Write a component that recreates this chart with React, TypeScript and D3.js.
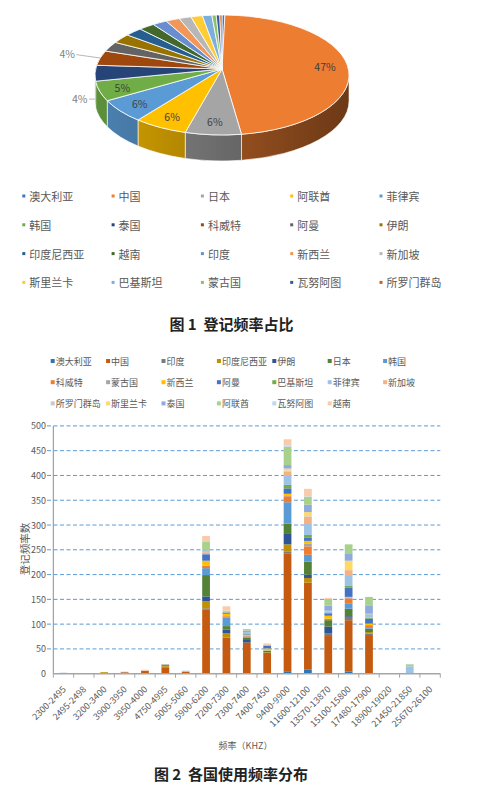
import React from "react";
import * as d3 from "d3";

// ---------- 图1 登记频率占比 (pie) ----------
const pieCountries = [
  "澳大利亚", "中国", "日本", "阿联酋", "菲律宾",
  "韩国", "泰国", "科威特", "阿曼", "伊朗",
  "印度尼西亚", "越南", "印度", "新西兰", "新加坡",
  "斯里兰卡", "巴基斯坦", "蒙古国", "瓦努阿图", "所罗门群岛",
];
// shares in percent
const pieShares = [0.4, 47.0, 6.4, 6.2, 6.0, 5.2, 4.2, 4.0, 2.7, 2.6, 2.4, 2.2, 2.0, 1.9, 1.7, 1.6, 1.3, 0.6, 0.5, 0.3];
const pieColors = [
  "#4472C4", "#ED7D31", "#A5A5A5", "#FFC000", "#5B9BD5",
  "#70AD47", "#264478", "#9E480E", "#636363", "#997300",
  "#255E91", "#43682B", "#698ED0", "#F1975A", "#B7B7B7",
  "#FFCD33", "#7CAFDD", "#8CC168", "#335AA1", "#D26012",
];

// ---------- 图2 各国使用频率分布 (stacked bars) ----------
const bandLabels = [
  "2300-2495", "2495-2498", "3200-3400", "3900-3950", "3950-4000",
  "4750-4995", "5005-5060", "5900-6200", "7200-7300", "7300-7400",
  "7400-7450", "9400-9900", "11600-12100", "13570-13870", "15100-15800",
  "17480-17900", "18900-19020", "21450-21850", "25670-26100",
];
const barCountries = [
  "澳大利亚", "中国", "印度", "印度尼西亚", "伊朗", "日本", "韩国",
  "科威特", "蒙古国", "新西兰", "阿曼", "巴基斯坦", "菲律宾", "新加坡",
  "所罗门群岛", "斯里兰卡", "泰国", "阿联酋", "瓦努阿图", "越南",
];
const barColors = [
  "#2E75B6", "#C55A11", "#7B7B7B", "#BF9000", "#2F5597", "#538135", "#5B9BD5",
  "#ED7D31", "#A5A5A5", "#FFC000", "#4472C4", "#70AD47", "#9DC3E6", "#F4B183",
  "#C9C9C9", "#FFD966", "#8FAADC", "#A9D18E", "#BDD7EE", "#F8CBAD",
];
// one row per country (same order as barCountries), one column per band
const barValues: number[][] = [
  [0, 0, 0, 0, 0, 0, 0, 0, 0, 0, 0, 5, 8, 0, 4, 0, 0, 0, 0],
  [0, 0, 0, 3, 6, 12, 4, 130, 73, 62, 42, 237, 176, 76, 104, 78, 0, 0, 0],
  [0, 0, 0, 0, 0, 2, 0, 2, 0, 2, 0, 5, 0, 5, 5, 3, 0, 0, 0],
  [0, 0, 3, 0, 0, 2, 0, 14, 9, 0, 1, 14, 9, 0, 0, 3, 0, 0, 0],
  [0, 0, 0, 0, 0, 0, 0, 10, 7, 4, 0, 21, 7, 14, 3, 0, 0, 0, 0],
  [0, 0, 0, 0, 0, 2, 0, 43, 7, 5, 3, 21, 26, 13, 15, 7, 0, 0, 0],
  [0, 0, 0, 0, 0, 0, 0, 14, 17, 2, 1, 43, 14, 0, 10, 3, 0, 0, 0],
  [0, 0, 0, 0, 0, 0, 0, 5, 3, 2, 0, 12, 17, 3, 11, 4, 0, 0, 0],
  [0, 0, 0, 0, 0, 1, 0, 0, 0, 0, 0, 2, 6, 0, 1, 0, 0, 0, 0],
  [0, 0, 0, 0, 0, 0, 0, 10, 5, 2, 4, 3, 5, 6, 2, 3, 0, 0, 0],
  [0, 0, 0, 0, 0, 0, 0, 13, 2, 2, 5, 11, 7, 5, 19, 10, 0, 0, 0],
  [0, 0, 0, 0, 0, 0, 0, 0, 1, 0, 0, 7, 5, 0, 4, 2, 0, 0, 0],
  [2, 0, 0, 1, 0, 0, 2, 3, 1, 3, 2, 18, 22, 3, 21, 7, 0, 15, 0],
  [0, 0, 0, 0, 0, 0, 0, 3, 0, 0, 1, 9, 15, 2, 10, 1, 0, 0, 0],
  [0, 0, 0, 0, 0, 0, 0, 0, 0, 0, 0, 2, 1, 0, 0, 0, 0, 0, 0],
  [0, 0, 0, 0, 0, 0, 0, 0, 0, 0, 0, 4, 8, 0, 19, 0, 0, 0, 0],
  [0, 0, 0, 0, 0, 0, 0, 2, 0, 3, 0, 7, 15, 10, 15, 17, 0, 0, 0],
  [0, 0, 0, 0, 0, 0, 0, 18, 2, 3, 0, 37, 16, 14, 18, 17, 0, 4, 0],
  [0, 0, 0, 0, 0, 0, 0, 0, 0, 0, 0, 2, 1, 0, 0, 0, 0, 0, 0],
  [0, 0, 0, 0, 2, 0, 0, 11, 9, 0, 2, 13, 15, 2, 0, 0, 0, 0, 0],
];

const W = 478;
const H = 789;
const FONT = '"Noto Sans CJK SC", "Noto Sans", sans-serif';
const TXT = "#595959";

// 3D pie geometry: a perspective view of a flat disc
const PX = 222, PY = 69, PA = 126.4, PB = 59.4, PE = 0.1, DEPTH = 26;
const RX = PA / Math.sqrt(1 - PE * PE);
const RY = PB / (1 - PE * PE);
const ECY = PY + (PB * PE) / (1 - PE * PE);
const TAU = Math.PI * 2;

type Pt = [number, number];

function proj(a: number, k = 1): Pt {
  const t = a - Math.PI / 2;
  const u = k * Math.cos(t);
  const v = k * Math.sin(t);
  const w = 1 - PE * v;
  return [PX + (PA * u) / w, PY + (PB * v) / w];
}

function phi(p: Pt, dy = 0) {
  return Math.atan2((p[1] - ECY - dy) / RY, (p[0] - PX) / RX);
}

function rimArc(p0: Pt, p1: Pt, sweep: 0 | 1, dy = 0) {
  let d = phi(p1, dy) - phi(p0, dy);
  if (!sweep) d = -d;
  d = ((d % TAU) + TAU) % TAU;
  return `A${RX},${RY} 0 ${d > Math.PI ? 1 : 0} ${sweep} ${p1[0]},${p1[1]}`;
}

function PieChart() {
  const arcs = d3.pie<number>().sort(null).startAngle(0).endAngle(TAU)(pieShares);
  const total = d3.sum(pieShares);
  const lo = Math.PI / 2 + Math.asin(PE);
  const hi = (3 * Math.PI) / 2 - Math.asin(PE);

  return (
    <g>
      <defs>
        {pieColors.map((c, i) => (
          <linearGradient key={i} id={`wall${i}`} gradientUnits="userSpaceOnUse" x1={PX - RX} x2={PX + RX} y1={0} y2={0}>
            <stop offset="0" stopColor={d3.color(c)!.darker(0.5).formatHex()} />
            <stop offset="1" stopColor={d3.color(c)!.darker(2.2).formatHex()} />
          </linearGradient>
        ))}
      </defs>

      {/* outer wall, front half only */}
      {arcs.map((a, i) => {
        const b0 = Math.max(a.startAngle, lo);
        const b1 = Math.min(a.endAngle, hi);
        if (b1 <= b0) return null;
        const p0 = proj(b0);
        const p1 = proj(b1);
        const q0: Pt = [p0[0], p0[1] + DEPTH];
        const q1: Pt = [p1[0], p1[1] + DEPTH];
        const d = `M${p0[0]},${p0[1]} ${rimArc(p0, p1, 1)} L${q1[0]},${q1[1]} ${rimArc(q1, q0, 0, DEPTH)} Z`;
        return <path key={i} d={d} fill={`url(#wall${i})`} stroke="#fff" strokeWidth={0.6} />;
      })}

      {/* top face */}
      {arcs.map((a, i) => {
        const p0 = proj(a.startAngle);
        const p1 = proj(a.endAngle);
        const d = `M${PX},${PY} L${p0[0]},${p0[1]} ${rimArc(p0, p1, 1)} Z`;
        return <path key={i} d={d} fill={pieColors[i]} stroke="#fff" strokeWidth={0.8} strokeLinejoin="round" />;
      })}

      {/* percentage labels */}
      {arcs.map((a, i) => {
        const pct = (a.value / total) * 100;
        if (pct < 3.5) return null;
        const mid = (a.startAngle + a.endAngle) / 2;
        const label = `${Math.round(pct)}%`;
        if (pct >= 4.5) {
          const [lx, ly] = proj(mid, 0.82);
          return (
            <text key={i} x={lx} y={ly} textAnchor="middle" dominantBaseline="central" fontSize={10.5} fill="#404040">
              {label}
            </text>
          );
        }
        const front = Math.sin(mid - Math.PI / 2) > 0;
        const r = proj(mid);
        const anchor: Pt = [r[0], r[1] + (front ? DEPTH : 0)];
        const dx = anchor[0] - PX;
        const dy = anchor[1] - (ECY + (front ? DEPTH : 0));
        const len = Math.hypot(dx, dy);
        const lead = front ? 6 : 24;
        const end: Pt = [anchor[0] + (dx / len) * lead, anchor[1] + (dy / len) * lead];
        return (
          <g key={i}>
            <line x1={anchor[0]} y1={anchor[1]} x2={end[0]} y2={end[1]} stroke="#A6A6A6" strokeWidth={0.8} />
            <text x={end[0] - 1.5} y={end[1] - 1} textAnchor="end" dominantBaseline="central" fontSize={10.5} fill="#7F7F7F">
              {label}
            </text>
          </g>
        );
      })}

      {/* legend */}
      {pieCountries.map((name, i) => {
        const col = i % 5;
        const row = Math.floor(i / 5);
        const lx = 22.3 + col * 89.3;
        const ly = 196 + row * 28.8;
        return (
          <g key={name}>
            <rect x={lx} y={ly - 1.5} width={3} height={3} fill={pieColors[i]} />
            <text x={lx + 7} y={ly} dominantBaseline="central" fontSize={11} fill={TXT}>
              {name}
            </text>
          </g>
        );
      })}

      <text x={231.5} y={330} textAnchor="middle" fontSize={15} fontWeight={600} fill="#222">
        {"图\u00A01\u00A0\u00A0登记频率占比"}
      </text>
    </g>
  );
}

function BarChart() {
  const x = d3.scaleBand<string>().domain(bandLabels).range([53.3, 440.3]);
  const y = d3.scaleLinear().domain([0, 500]).range([673.7, 425.9]);
  const rows = bandLabels.map((b, j) => {
    const r: Record<string, number | string> = { band: b };
    barCountries.forEach((c, i) => (r[c] = barValues[i][j]));
    return r;
  });
  const series = d3.stack<Record<string, number | string>>().keys(barCountries)(rows as any);
  const bw = x.bandwidth() * 0.38;
  const x0 = x.range()[0];
  const x1 = x.range()[1];

  return (
    <g>
      {/* legend */}
      {barCountries.map((name, i) => {
        const col = i % 7;
        const row = Math.floor(i / 7);
        const lx = 50.7 + col * 55.4;
        const ly = 361 + row * 21.2;
        return (
          <g key={name}>
            <rect x={lx} y={ly - 2} width={4} height={4} fill={barColors[i]} />
            <text x={lx + 5} y={ly} dominantBaseline="central" fontSize={9} fill={TXT}>
              {name}
            </text>
          </g>
        );
      })}

      {/* grid + y ticks */}
      {y.ticks(10).map((t) => (
        <g key={t}>
          {t > 0 && (
            <line x1={47} x2={x1} y1={y(t)} y2={y(t)} stroke="#5B9BD5" strokeWidth={1} strokeDasharray="4 2.5" />
          )}
          <text x={46} y={y(t)} textAnchor="end" dominantBaseline="central" fontSize={9} fill={TXT}>
            {t}
          </text>
        </g>
      ))}

      {/* stacked bars */}
      {series.map((s, i) =>
        s.map((d, j) =>
          d[1] - d[0] > 0 ? (
            <rect
              key={`${i}-${j}`}
              x={(x(bandLabels[j]) as number) + (x.bandwidth() - bw) / 2}
              y={y(d[1])}
              width={bw}
              height={y(d[0]) - y(d[1])}
              fill={barColors[i]}
            />
          ) : null
        )
      )}

      {/* axes */}
      <line x1={x0} x2={x0} y1={y(500)} y2={y(0)} stroke="#8C8C8C" strokeWidth={1} />
      <line x1={x0} x2={x1} y1={y(0)} y2={y(0)} stroke="#A6A6A6" strokeWidth={1.5} />
      {d3.range(bandLabels.length + 1).map((k) => (
        <line key={k} x1={x0 + k * x.step()} x2={x0 + k * x.step()} y1={y(0)} y2={y(0) + 4} stroke="#A6A6A6" strokeWidth={1} />
      ))}
      {bandLabels.map((b) => {
        const cx = (x(b) as number) + x.bandwidth() / 2;
        return (
          <text key={b} transform={`translate(${cx + 3},${690}) rotate(-45)`} textAnchor="end" fontSize={9} fill={TXT}>
            {b}
          </text>
        );
      })}

      <text transform="translate(29,549) rotate(-90)" textAnchor="middle" fontSize={10.5} fill={TXT}>
        登记频率数
      </text>
      <text x={245.5} y={749} textAnchor="middle" fontSize={9} fill={TXT}>
        频率（KHZ）
      </text>

      <text x={231} y={780} textAnchor="middle" fontSize={15} fontWeight={600} fill="#222">
        {"图\u00A02\u00A0\u00A0各国使用频率分布"}
      </text>
    </g>
  );
}

export default function App() {
  return (
    <svg
      width={W}
      height={H}
      viewBox={`0 0 ${W} ${H}`}
      fontFamily={FONT}
      style={{ position: "absolute", left: 0, top: 0, background: "#fff" }}
    >
      <PieChart />
      <BarChart />
    </svg>
  );
}
